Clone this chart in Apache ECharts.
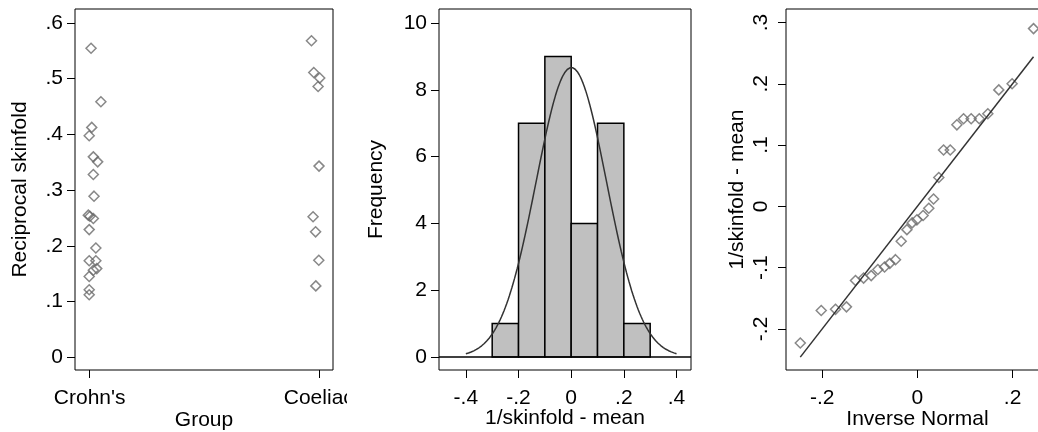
<!DOCTYPE html>
<html>
<head>
<meta charset="utf-8">
<script src="https://cdn.jsdelivr.net/npm/echarts@6/dist/echarts.min.js"></script>
<style>
  html, body { margin: 0; padding: 0; background: #fff; }
  #chart { width: 1038px; height: 432px; }
</style>
</head>
<body>
<div id="chart"></div>
<script>
// ---- Panel 1: reciprocal skinfold by group (jittered dot plot) ----
const groupLabels = ["Crohn's", "Coeliac"];
const groupTicks = [1, 2];
const crohnsValues = [0.5545, 0.4585, 0.4125, 0.3974, 0.3596, 0.3506, 0.328, 0.289,
  0.255, 0.253, 0.249, 0.229, 0.196, 0.173, 0.173, 0.156, 0.159, 0.145, 0.121, 0.112];
const crohnsPos = [1.006, 1.049, 1.009, 0.998, 1.016, 1.035, 1.016, 1.019,
  0.994, 1.001, 1.016, 0.998, 1.027, 0.998, 1.027, 1.016, 1.031, 0.998, 0.998, 0.998];
const coeliacValues = [0.568, 0.511, 0.501, 0.486, 0.343, 0.252, 0.225, 0.174, 0.128];
const coeliacPos = [1.968, 1.978, 2.004, 1.997, 2.001, 1.975, 1.986, 2.0, 1.987];
const recipTicks = [0, 0.1, 0.2, 0.3, 0.4, 0.5, 0.6];

// ---- Panel 2: histogram of deviations from group mean ----
const binStarts = [-0.3, -0.2, -0.1, 0, 0.1, 0.2];
const binWidth = 0.1;
const binCounts = [1, 7, 9, 4, 7, 1];
const freqTicks = [0, 2, 4, 6, 8, 10];
const devTicks = [-0.4, -0.2, 0, 0.2, 0.4];
const curveRange = [-0.4, 0.4];

// ---- Panel 3: normal quantile plot of the deviations ----
const qqNormal = [-0.246, -0.202, -0.172, -0.149, -0.130, -0.113, -0.097, -0.083, -0.069,
  -0.058, -0.046, -0.034, -0.022, -0.011, -0.001, 0.012, 0.024, 0.034, 0.045, 0.055,
  0.069, 0.083, 0.097, 0.113, 0.130, 0.148, 0.171, 0.199, 0.244];
const qqResid = [-0.223, -0.170, -0.168, -0.164, -0.121, -0.117, -0.113, -0.103, -0.099,
  -0.093, -0.087, -0.057, -0.038, -0.027, -0.022, -0.015, -0.003, 0.012, 0.047, 0.092,
  0.092, 0.133, 0.143, 0.143, 0.143, 0.151, 0.190, 0.200, 0.290];
const qqXTicks = [-0.2, 0, 0.2];
const qqYTicks = [-0.2, -0.1, 0, 0.1, 0.2, 0.3];

// Normal density overlay, using the mean and SD of the deviations,
// scaled to counts per bin.
const n = qqResid.length;
const mean = qqResid.reduce((a, b) => a + b, 0) / n;
const sd = Math.sqrt(qqResid.reduce((a, b) => a + (b - mean) * (b - mean), 0) / (n - 1));
const normalCurve = [];
for (let i = 0; i <= 160; i++) {
  const x = curveRange[0] + (curveRange[1] - curveRange[0]) * i / 160;
  const z = (x - mean) / sd;
  normalCurve.push([x, n * binWidth * Math.exp(-0.5 * z * z) / (sd * Math.sqrt(2 * Math.PI))]);
}

const FONT = 'Liberation Sans';
const FS = 21;
const MARK = '#6a6a6a';

function decimalLabel(v) {
  if (Math.abs(v) < 1e-9) return '0';
  return String(Math.round(v * 10) / 10).replace('0.', '.');
}

function axis(gridIndex, min, max, ticks, fmt, opts) {
  opts = opts || {};
  return Object.assign({
    type: 'value', gridIndex, min, max,
    splitLine: { show: false },
    axisLine: { show: false, onZero: false },
    axisTick: { show: true, inside: false, length: 8, customValues: ticks,
      lineStyle: { color: '#000', width: 1 } },
    axisLabel: { show: true, customValues: ticks, formatter: fmt, color: '#000',
      fontFamily: FONT, fontSize: FS, margin: opts.margin || 12, rotate: opts.rotate || 0 },
    nameLocation: 'middle',
    nameMoveOverlap: false,
    nameTextStyle: { color: '#000', fontFamily: FONT, fontSize: FS }
  }, opts.extra || {});
}

const gridStyle = {
  show: true, borderColor: '#000', borderWidth: 1, backgroundColor: 'transparent',
  containLabel: false, outerBoundsMode: 'none'
};

const option = {
  animation: false,
  backgroundColor: '#fff',
  grid: [
    Object.assign({ left: 75, top: 9, width: 258, height: 361 }, gridStyle),
    Object.assign({ left: 439, top: 9, width: 252, height: 361 }, gridStyle),
    Object.assign({ left: 786, top: 9, width: 263, height: 361 }, gridStyle)
  ],
  xAxis: [
    axis(0, 0.936, 2.062, groupTicks, v => groupLabels[Math.round(v) - 1], {
      margin: 18, extra: { name: 'Group', nameGap: 40 } }),
    axis(1, -0.502, 0.455, devTicks, decimalLabel, {
      margin: 18, extra: { name: '1/skinfold - mean', nameGap: 38 } }),
    axis(2, -0.276, 0.2765, qqXTicks, decimalLabel, {
      margin: 18, extra: { name: 'Inverse Normal', nameGap: 39 } })
  ],
  yAxis: [
    axis(0, -0.023, 0.625, recipTicks, decimalLabel, {
      margin: 12, extra: { name: 'Reciprocal skinfold', nameGap: 44 } }),
    axis(1, -0.39, 10.42, freqTicks, v => String(v), {
      margin: 12, extra: { name: 'Frequency', nameGap: 52 } }),
    axis(2, -0.267, 0.322, qqYTicks, decimalLabel, {
      margin: 14, rotate: 90, extra: { name: '1/skinfold - mean', nameGap: 38 } })
  ],
  series: [
    {
      type: 'scatter', xAxisIndex: 0, yAxisIndex: 0,
      symbol: 'diamond', symbolSize: [10, 10],
      itemStyle: { color: 'transparent', borderColor: MARK, borderWidth: 1.5 },
      data: crohnsValues.map((v, i) => [crohnsPos[i], v])
    },
    {
      type: 'scatter', xAxisIndex: 0, yAxisIndex: 0,
      symbol: 'diamond', symbolSize: [10, 10],
      itemStyle: { color: 'transparent', borderColor: MARK, borderWidth: 1.5 },
      data: coeliacValues.map((v, i) => [coeliacPos[i], v])
    },
    {
      type: 'custom', xAxisIndex: 1, yAxisIndex: 1,
      encode: { x: [0, 1], y: 2 },
      data: binStarts.map((s, i) => [s, s + binWidth, binCounts[i]]),
      renderItem: function (params, api) {
        const p0 = api.coord([api.value(0), api.value(2)]);
        const p1 = api.coord([api.value(1), 0]);
        return {
          type: 'rect',
          shape: { x: p0[0], y: p0[1], width: p1[0] - p0[0], height: p1[1] - p0[1] },
          style: { fill: '#c0c0c0', stroke: '#000', lineWidth: 1.5 }
        };
      },
      markLine: {
        silent: true, symbol: 'none', animation: false,
        label: { show: false },
        lineStyle: { color: '#000', width: 1.5, type: 'solid' },
        data: [{ yAxis: 0 }]
      }
    },
    {
      type: 'line', xAxisIndex: 1, yAxisIndex: 1,
      showSymbol: false, symbol: 'none', z: 5,
      lineStyle: { color: '#333', width: 1.5 },
      data: normalCurve
    },
    {
      type: 'line', xAxisIndex: 2, yAxisIndex: 2,
      showSymbol: false, symbol: 'none',
      lineStyle: { color: '#333', width: 1.5 },
      data: [[qqNormal[0], qqNormal[0]], [qqNormal[n - 1], qqNormal[n - 1]]]
    },
    {
      type: 'scatter', xAxisIndex: 2, yAxisIndex: 2,
      symbol: 'diamond', symbolSize: [10, 10],
      itemStyle: { color: 'transparent', borderColor: MARK, borderWidth: 1.5 },
      data: qqNormal.map((x, i) => [x, qqResid[i]])
    }
  ],
  graphic: [
    // the first panel ends where the histogram panel begins
    { type: 'rect', left: 347, top: 380, z: 100,
      shape: { width: 80, height: 30 }, style: { fill: '#fff' } }
  ]
};

const chart = echarts.init(document.getElementById('chart'), null, { renderer: 'canvas' });
chart.setOption(option);
</script>
</body>
</html>
